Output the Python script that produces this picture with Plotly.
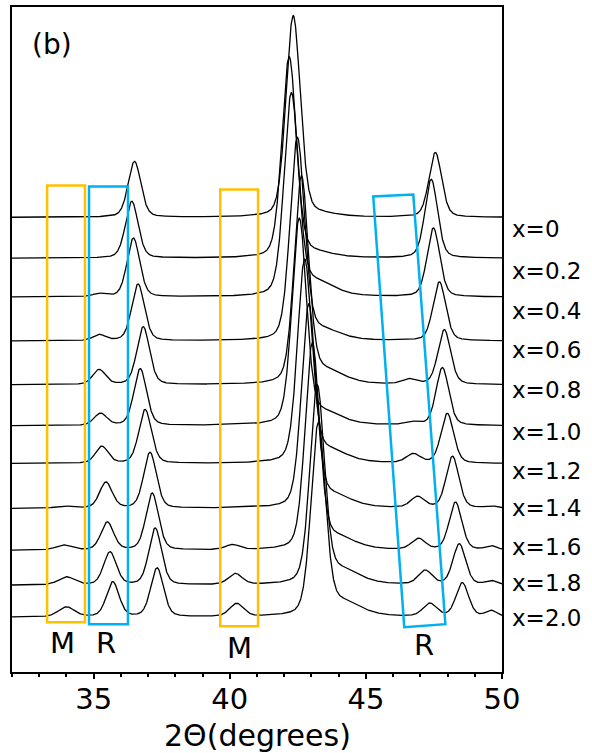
import numpy as np
import plotly.graph_objects as go

# ---------------- data ----------------
sample_labels = ["x=0", "x=0.2", "x=0.4", "x=0.6", "x=0.8", "x=1.0",
                 "x=1.2", "x=1.4", "x=1.6", "x=1.8", "x=2.0"]
# vertical offset (baseline) of each pattern, arbitrary units
offsets = [456, 415, 376, 332, 288, 247, 209, 164, 122, 87, 55]

# main reflection near 36.5 deg
peakA_pos = [36.50, 36.40, 36.46, 36.63, 36.82, 36.71, 36.89, 37.07, 37.15, 37.26, 37.33]
peakA_h   = [56, 57, 59, 57, 58, 57, 54, 56, 57, 57, 49]
# strongest reflection near 42.3 deg
peakB_pos = [42.33, 42.18, 42.26, 42.48, 42.63, 42.55, 42.75, 42.90, 43.03, 43.21, 43.25]
peakB_h   = [201, 200, 199, 200, 204, 203, 200, 200, 203, 195, 189]
# broad tail on the high-angle side of the strongest reflection
tailB_h   = [3, 5, 14, 10, 13, 12, 12, 12, 12, 14, 14]
# reflection near 47.5 deg
peakC_pos = [47.55, 47.40, 47.48, 47.70, 47.88, 47.81, 47.99, 48.18, 48.29, 48.43, 48.54]
peakC_h   = [65, 79, 69, 59, 55, 58, 50, 52, 48, 41, 34]
# "R" impurity reflections
R1_pos = [35.2, 35.2, 35.2, 35.2, 35.2, 35.25, 35.3, 35.45, 35.5, 35.6, 35.7]
R1_h   = [0, 0, 3, 6, 15, 12, 17, 26, 28, 33, 35]
R2_pos = [46.6, 46.6, 46.6, 46.6, 46.6, 46.7, 46.74, 46.9, 46.93, 47.18, 47.35]
R2_h   = [0, 0, 0, 0, 5, 3, 9, 11, 11, 14, 13]
# "M" impurity reflections
M1_pos = [33.9, 33.9, 33.9, 33.9, 33.9, 33.9, 33.9, 33.9, 33.9, 34.0, 34.0]
M1_h   = [0, 0, 0, 0, 0, 0, 0, 2, 5, 8, 10]
M2_pos = [40.2, 40.2, 40.2, 40.2, 40.2, 40.2, 40.2, 40.2, 40.1, 40.2, 40.25]
M2_h   = [0, 0, 0, 0, 0, 0, 0, 0, 5, 11, 13]
# weak feature near 49.6 deg
P5_h   = [0, 0, 0, 0, 0, 0, 0, 2, 4, 4, 6]

x_ticks = [35, 40, 45, 50]
x_title = "2Θ(degrees)"

# ---------------- profile construction ----------------
tt = np.linspace(32.0, 50.0, 1801)


def pv(x, x0, h, fwhm, eta=0.3):
    d2 = 4.0 * (x - x0) ** 2 / fwhm ** 2
    return h * ((1 - eta) * np.exp(-np.log(2) * d2) + eta / (1 + d2))


fig = go.Figure()
for i, lab in enumerate(sample_labels):
    y = np.full_like(tt, float(offsets[i]))
    y += pv(tt, peakA_pos[i], peakA_h[i], 0.55)
    y += pv(tt, peakB_pos[i], peakB_h[i], 0.62, 0.25)
    y += pv(tt, peakB_pos[i] + 0.9, tailB_h[i], 1.6, 0.5)
    y += pv(tt, peakC_pos[i], peakC_h[i], 0.55)
    y += pv(tt, R1_pos[i], R1_h[i], 0.55)
    y += pv(tt, R2_pos[i], R2_h[i], 0.6)
    y += pv(tt, M1_pos[i], M1_h[i], 0.7)
    y += pv(tt, M2_pos[i], M2_h[i], 0.6)
    y += pv(tt, 49.6, P5_h[i], 0.5)
    fig.add_trace(go.Scatter(x=tt, y=y, mode="lines", name=lab,
                             line=dict(color="black", width=1.3),
                             showlegend=False, hoverinfo="skip"))

FONT = "DejaVu Sans"

# sample labels on the right
label_y = [444, 402, 362, 323, 283, 241, 202, 164, 125, 89, 54]
for lab, ly in zip(sample_labels, label_y):
    fig.add_annotation(x=1.016, xref="paper", y=ly, yref="y", text=lab,
                       showarrow=False, xanchor="left", yanchor="middle",
                       font=dict(family=FONT, size=23, color="black"))

# phase markers
phase_text = ["M", "R", "M", "R"]
phase_x = [33.85, 35.45, 40.35, 47.15]
phase_y = [29, 29, 24, 27]
for t, px, py in zip(phase_text, phase_x, phase_y):
    fig.add_annotation(x=px, y=py, text=t, showarrow=False,
                       font=dict(family=FONT, size=29, color="black"))

fig.add_annotation(x=33.47, xref="x", y=629, yref="y", text="(b)",
                   showarrow=False, font=dict(family=FONT, size=28, color="black"))

# x-axis title
fig.add_annotation(x=0.5, xref="paper", y=-0.096, yref="paper", text=x_title,
                   showarrow=False, xanchor="center", yanchor="middle",
                   font=dict(family=FONT, size=30, color="black"))

# highlight boxes
ORANGE = "#FFC000"
BLUE = "#00B0F0"
boxes = [
    (ORANGE, [(33.29, 50), (33.29, 488), (34.68, 488), (34.68, 50)]),
    (BLUE,   [(34.83, 48), (34.83, 487), (36.26, 487), (36.26, 48)]),
    (ORANGE, [(39.65, 46), (39.65, 484), (41.04, 484), (41.04, 46)]),
    (BLUE,   [(46.41, 45), (45.27, 477), (46.74, 479), (47.92, 48)]),
]
for col, pts in boxes:
    path = "M " + " L ".join(f"{a},{b}" for a, b in pts) + " Z"
    fig.add_shape(type="path", path=path, xref="x", yref="y",
                  line=dict(color=col, width=2.5), fillcolor="rgba(0,0,0,0)")

fig.update_layout(
    width=592, height=753,
    margin=dict(l=12, r=90, t=5, b=81),
    paper_bgcolor="white", plot_bgcolor="white",
    font=dict(family=FONT, color="black"),
    xaxis=dict(range=[32, 50], tickvals=x_ticks, ticks="outside", ticklen=5,
               tickwidth=1.5, tickcolor="black", ticklabelstandoff=-5,
               minor=dict(dtick=1, ticks="outside", ticklen=3, tickcolor="black"),
               showline=True, linecolor="black", linewidth=2, mirror=True,
               showgrid=False, zeroline=False,
               tickfont=dict(family=FONT, size=29, color="black")),
    yaxis=dict(range=[0, 667], showticklabels=False, ticks="",
               showline=True, linecolor="black", linewidth=2, mirror=True,
               showgrid=False, zeroline=False),
)

fig.write_html("out.html", config={"displayModeBar": False},
               post_script="document.body.style.margin='0';document.body.style.overflow='hidden';")
